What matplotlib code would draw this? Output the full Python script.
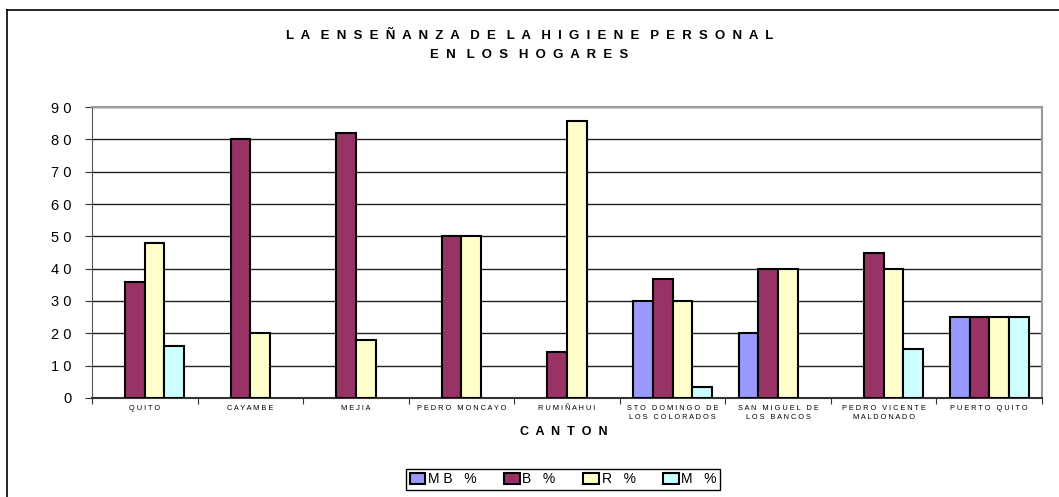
import numpy as np
import matplotlib.pyplot as plt
from matplotlib.lines import Line2D

# data
cantones = ['QUITO', 'CAYAMBE', 'MEJIA', 'PEDRO MONCAYO', 'RUMIÑAHUI',
            'STO DOMINGO DE\nLOS COLORADOS', 'SAN MIGUEL DE\nLOS BANCOS',
            'PEDRO VICENTE\nMALDONADO', 'PUERTO QUITO']
series_names = ['MB %', 'B %', 'R %', 'M %']
mb = [0, 0, 0, 0, 0, 30, 20, 0, 25]
b = [36, 80, 82, 50, 14.3, 36.7, 40, 45, 25]
r = [48, 20, 18, 50, 85.7, 30, 40, 40, 25]
m = [16, 0, 0, 0, 0, 3.3, 0, 15, 25]
yticks = [0, 10, 20, 30, 40, 50, 60, 70, 80, 90]

colors = ['#9999FF', '#993366', '#FFFFCC', '#CCFFFF']


def spaced(text, gap=' ', wordgap='  '):
    # mimic the wide letter spacing of the original
    lines = []
    for line in text.split('\n'):
        words = [gap.join(list(w)) for w in line.split(' ')]
        lines.append(wordgap.join(words))
    return '\n'.join(lines)


plt.rcParams['font.family'] = ['Liberation Sans', 'DejaVu Sans']

fig = plt.figure(figsize=(10.59, 4.97), dpi=100)
ax = fig.add_axes([0.0869, 0.1992, 0.8971, 0.5855])

x = np.arange(len(cantones)) + 0.5
width = 0.1865
for k, vals in enumerate([mb, b, r, m]):
    vals = np.array(vals, dtype=float)
    mask = vals > 0
    ax.bar(x[mask] + (k - 1.5) * width, vals[mask], width=width,
           color=colors[k], edgecolor='black', linewidth=1.5, zorder=3)

ax.set_xlim(0, len(cantones))
ax.set_ylim(0, 90)
ax.set_yticks(yticks)
ax.set_yticklabels([spaced(str(v)) for v in yticks], fontsize=10.5)
ax.yaxis.grid(True, color='#222222', linewidth=1)
ax.set_axisbelow(True)

# category boundaries get the ticks, names sit in between
ax.set_xticks(np.arange(len(cantones) + 1))
ax.set_xticklabels([])
ax.set_xticks(x, minor=True)
ax.set_xticklabels([spaced(c, gap=' ', wordgap='   ') for c in cantones],
                   minor=True, fontsize=5.3, linespacing=1.5)
ax.tick_params(axis='x', which='minor', length=0, pad=5)
ax.tick_params(axis='x', which='major', length=4, direction='out', color='#333333')
ax.tick_params(axis='y', length=5, direction='out', color='#333333', pad=10)

ax.spines['top'].set_color('#999999')
ax.spines['right'].set_color('#999999')
ax.spines['top'].set_linewidth(1.5)
ax.spines['right'].set_linewidth(1.5)
ax.spines['left'].set_color('#555555')
ax.spines['bottom'].set_color('#333333')
ax.spines['bottom'].set_linewidth(1.5)

fig.text(0.500, 0.928, spaced('LA ENSEÑANZA DE LA HIGIENE PERSONAL', gap='  ', wordgap='   '),
         ha='center', va='center', fontsize=9.5, fontweight='bold')
fig.text(0.500, 0.889, spaced('EN LOS HOGARES', gap='  ', wordgap='   '),
         ha='center', va='center', fontsize=9.5, fontweight='bold')
fig.text(0.532, 0.131, spaced('CANTON', gap='  '), ha='center', va='center',
         fontsize=9, fontweight='bold')

handles = [plt.Rectangle((0, 0), 1, 1, facecolor=c, edgecolor='black', linewidth=1.5)
           for c in colors]
leg = fig.legend(handles, [spaced(s, wordgap='   ') for s in series_names], ncol=4,
                 loc='center', bbox_to_anchor=(0.532, 0.036), fontsize=10,
                 fancybox=False, framealpha=1, edgecolor='black',
                 handlelength=1.1, handleheight=0.8, handletextpad=0.2,
                 columnspacing=2.0, borderpad=0.25)
leg.get_frame().set_linewidth(1)

# outer chart frame (left and top edges visible)
fig.add_artist(Line2D([0.0066, 0.0066], [0.0, 0.979], color='black', linewidth=1.2))
fig.add_artist(Line2D([0.0066, 1.0], [0.979, 0.979], color='black', linewidth=1.2))

plt.savefig('out.png', dpi=100)
plt.close()
